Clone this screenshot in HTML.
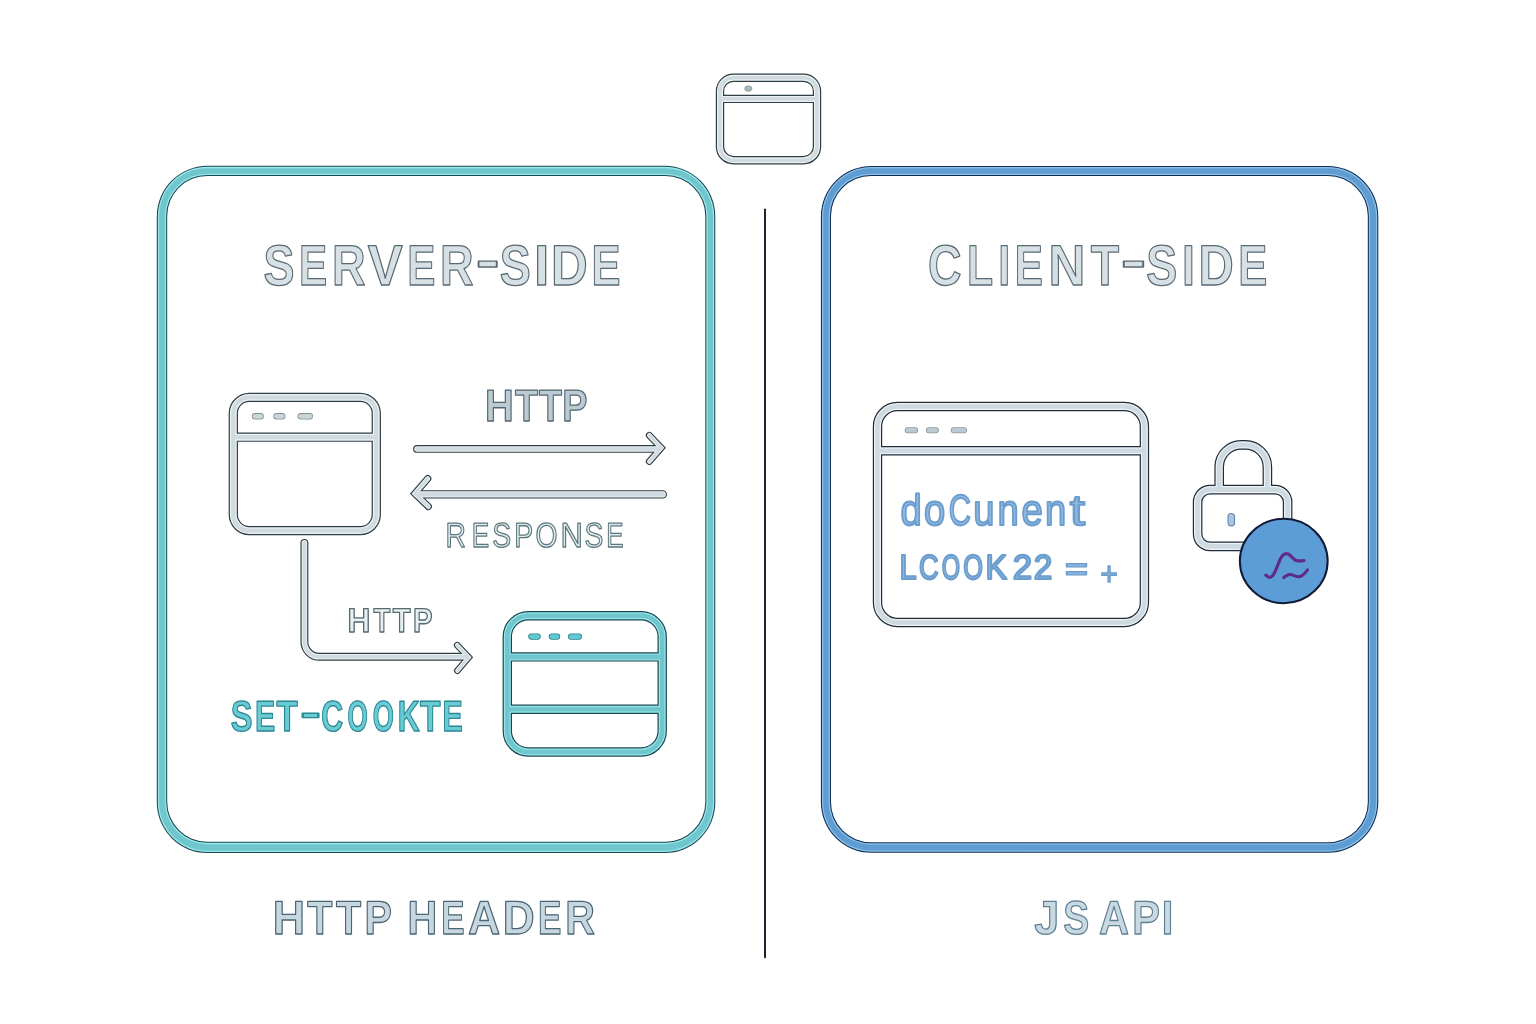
<!DOCTYPE html>
<html lang="en"><head><meta charset="utf-8"><title>Server-side vs client-side cookies</title>
<style>
html,body{margin:0;padding:0;background:#fff;}
body{width:1536px;height:1024px;overflow:hidden;}
svg{display:block;}
text{font-family:"Liberation Sans",sans-serif;stroke-linejoin:round;text-rendering:geometricPrecision;}
</style></head><body>
<svg width="1536" height="1024" viewBox="0 0 1536 1024">
<rect width="1536" height="1024" fill="#ffffff"/>
<g id="panel-server"><rect x="156.80" y="165.80" width="558.50" height="687.20" rx="50.50" fill="#174850"/><rect x="157.85" y="166.85" width="556.40" height="685.10" rx="49.45" fill="#9ae6ec"/><rect x="159.15" y="168.15" width="553.80" height="682.50" rx="48.15" fill="#6fc6cd"/><rect x="164.85" y="173.65" width="542.80" height="670.50" rx="42.35" fill="#9ae6ec"/><rect x="166.15" y="174.95" width="540.20" height="667.90" rx="41.05" fill="#174850"/><rect x="167.20" y="176.00" width="538.10" height="665.80" rx="40.00" fill="#fff"/></g>
<g id="panel-client"><rect x="820.90" y="165.90" width="557.40" height="686.90" rx="50.50" fill="#0e2d55"/><rect x="821.95" y="166.95" width="555.30" height="684.80" rx="49.45" fill="#8cc0e9"/><rect x="823.25" y="168.25" width="552.70" height="682.20" rx="48.15" fill="#5e9cd1"/><rect x="828.65" y="173.65" width="541.50" height="670.90" rx="42.35" fill="#8cc0e9"/><rect x="829.95" y="174.95" width="538.90" height="668.30" rx="41.05" fill="#0e2d55"/><rect x="831.00" y="176.00" width="536.80" height="666.20" rx="40.00" fill="#fff"/></g>
<path id="divider" d="M765 209.5V957.3" stroke="#0e1a24" stroke-width="1.9" stroke-linecap="round" fill="none"/>
<g id="icon-top"><g fill="none" stroke-linecap="butt" stroke-linejoin="round"><g stroke="#2f3d44"><rect x="720.00" y="77.70" width="97.00" height="82.50" rx="13.5" stroke-width="8.40"/><path d="M720.00 98.90L817.00 98.90" stroke-width="8.40"/></g><g stroke="#ebf3f5"><rect x="720.00" y="77.70" width="97.00" height="82.50" rx="13.5" stroke-width="6.00"/><path d="M720.00 98.90L817.00 98.90" stroke-width="6.00"/></g><g stroke="#d1dbdf"><rect x="720.00" y="77.70" width="97.00" height="82.50" rx="13.5" stroke-width="3.60"/><path d="M720.00 98.90L817.00 98.90" stroke-width="3.60"/></g></g><ellipse cx="748.3" cy="88.6" rx="3.6" ry="2.7" fill="#aab9bd" stroke="#7d8e94" stroke-width="0.8"/></g>
<g id="icon-browser-l"><g fill="none" stroke-linecap="butt" stroke-linejoin="round"><g stroke="#2f3d44"><rect x="233.30" y="397.40" width="143.00" height="133.20" rx="16" stroke-width="9.30"/><path d="M233.30 437.20L376.30 437.20" stroke-width="9.30"/></g><g stroke="#ebf3f5"><rect x="233.30" y="397.40" width="143.00" height="133.20" rx="16" stroke-width="6.90"/><path d="M233.30 437.20L376.30 437.20" stroke-width="6.90"/></g><g stroke="#d1dbdf"><rect x="233.30" y="397.40" width="143.00" height="133.20" rx="16" stroke-width="4.30"/><path d="M233.30 437.20L376.30 437.20" stroke-width="4.30"/></g></g><rect x="251.80" y="413.10" width="12.00" height="6.40" rx="3.20" fill="#7f9096"/><rect x="252.60" y="413.90" width="10.40" height="4.80" rx="2.40" fill="#cbd5d8"/><rect x="273.30" y="413.10" width="12.10" height="6.40" rx="3.20" fill="#7f9096"/><rect x="274.10" y="413.90" width="10.50" height="4.80" rx="2.40" fill="#cbd5d8"/><rect x="297.60" y="413.10" width="15.40" height="6.40" rx="3.20" fill="#7f9096"/><rect x="298.40" y="413.90" width="13.80" height="4.80" rx="2.40" fill="#cbd5d8"/></g>
<g id="arrow-req"><g fill="none" stroke-linecap="round" stroke-linejoin="miter"><g stroke="#2f3d44"><path d="M417 448.9H659" stroke-width="7.80"/><path d="M649.3 435.3L661.25 447.9L649.3 461.5" stroke-width="6.90"/></g><g stroke="#ebf3f5"><path d="M417 448.9H659" stroke-width="5.50"/><path d="M649.3 435.3L661.25 447.9L649.3 461.5" stroke-width="4.60"/></g><g stroke="#d1dbdf"><path d="M417 448.9H659" stroke-width="3.50"/><path d="M649.3 435.3L661.25 447.9L649.3 461.5" stroke-width="2.60"/></g></g></g>
<g id="arrow-res"><g fill="none" stroke-linecap="round" stroke-linejoin="miter"><g stroke="#2f3d44"><path d="M662.8 494.4H417" stroke-width="8.40"/><path d="M427.8 478.6L414.8 493.6L428.4 506.6" stroke-width="7.10"/></g><g stroke="#ebf3f5"><path d="M662.8 494.4H417" stroke-width="6.10"/><path d="M427.8 478.6L414.8 493.6L428.4 506.6" stroke-width="4.80"/></g><g stroke="#d1dbdf"><path d="M662.8 494.4H417" stroke-width="4.10"/><path d="M427.8 478.6L414.8 493.6L428.4 506.6" stroke-width="2.80"/></g></g></g>
<g id="arrow-l"><g fill="none" stroke-linecap="round" stroke-linejoin="miter"><g stroke="#2f3d44"><path d="M304.4 542.9V641.8a15 15 0 0 0 15 15H466" stroke-width="7.90"/><path d="M457.2 645.2L468.7 657.3L457.4 670.7" stroke-width="6.70"/></g><g stroke="#ebf3f5"><path d="M304.4 542.9V641.8a15 15 0 0 0 15 15H466" stroke-width="5.60"/><path d="M457.2 645.2L468.7 657.3L457.4 670.7" stroke-width="4.40"/></g><g stroke="#d1dbdf"><path d="M304.4 542.9V641.8a15 15 0 0 0 15 15H466" stroke-width="3.60"/><path d="M457.2 645.2L468.7 657.3L457.4 670.7" stroke-width="2.40"/></g></g></g>
<g id="icon-store"><g fill="none" stroke-linecap="butt" stroke-linejoin="round"><g stroke="#174850"><rect x="507.30" y="615.80" width="154.90" height="136.20" rx="21" stroke-width="9.40"/><path d="M507.30 656.90L662.20 656.90" stroke-width="9.40"/><path d="M507.30 709.20L662.20 709.20" stroke-width="9.40"/></g><g stroke="#9ae6ec"><rect x="507.30" y="615.80" width="154.90" height="136.20" rx="21" stroke-width="7.00"/><path d="M507.30 656.90L662.20 656.90" stroke-width="7.00"/><path d="M507.30 709.20L662.20 709.20" stroke-width="7.00"/></g><g stroke="#6fc6cd"><rect x="507.30" y="615.80" width="154.90" height="136.20" rx="21" stroke-width="4.60"/><path d="M507.30 656.90L662.20 656.90" stroke-width="4.60"/><path d="M507.30 709.20L662.20 709.20" stroke-width="4.60"/></g></g><rect x="528.20" y="633.50" width="12.60" height="6.20" rx="3.10" fill="#23808c"/><rect x="529.00" y="634.30" width="11.00" height="4.60" rx="2.30" fill="#62c8d2"/><rect x="548.70" y="633.50" width="11.50" height="6.20" rx="3.10" fill="#23808c"/><rect x="549.50" y="634.30" width="9.90" height="4.60" rx="2.30" fill="#62c8d2"/><rect x="568.00" y="633.50" width="14.00" height="6.20" rx="3.10" fill="#23808c"/><rect x="568.80" y="634.30" width="12.40" height="4.60" rx="2.30" fill="#62c8d2"/></g>
<g id="icon-browser-r"><g fill="none" stroke-linecap="butt" stroke-linejoin="round"><g stroke="#212c38"><rect x="877.50" y="406.50" width="266.90" height="216.00" rx="20" stroke-width="9.40"/><path d="M877.50 450.80L1144.40 450.80" stroke-width="9.40"/></g><g stroke="#eaf2f7"><rect x="877.50" y="406.50" width="266.90" height="216.00" rx="20" stroke-width="7.00"/><path d="M877.50 450.80L1144.40 450.80" stroke-width="7.00"/></g><g stroke="#cfd9e0"><rect x="877.50" y="406.50" width="266.90" height="216.00" rx="20" stroke-width="4.40"/><path d="M877.50 450.80L1144.40 450.80" stroke-width="4.40"/></g></g><rect x="904.70" y="427.30" width="13.40" height="6.00" rx="3.00" fill="#8797a0"/><rect x="905.50" y="428.10" width="11.80" height="4.40" rx="2.20" fill="#bcc9d0"/><rect x="925.90" y="427.30" width="13.00" height="6.00" rx="3.00" fill="#8797a0"/><rect x="926.70" y="428.10" width="11.40" height="4.40" rx="2.20" fill="#bcc9d0"/><rect x="950.80" y="427.30" width="16.20" height="6.00" rx="3.00" fill="#8797a0"/><rect x="951.60" y="428.10" width="14.60" height="4.40" rx="2.20" fill="#bcc9d0"/></g>
<g id="icon-lock"><g fill="none" stroke-linecap="butt" stroke-linejoin="round"><g stroke="#212c38"><path d="M1219.2 489.5V466.9a22 22 0 0 1 22 -22h4.2a22 22 0 0 1 22 22V489.5" stroke-width="9.60"/><rect x="1197.60" y="489.60" width="90.00" height="56.80" rx="12.5" stroke-width="9.60"/></g><g stroke="#eaf2f7"><path d="M1219.2 489.5V466.9a22 22 0 0 1 22 -22h4.2a22 22 0 0 1 22 22V489.5" stroke-width="7.20"/><rect x="1197.60" y="489.60" width="90.00" height="56.80" rx="12.5" stroke-width="7.20"/></g><g stroke="#cfd9e0"><path d="M1219.2 489.5V466.9a22 22 0 0 1 22 -22h4.2a22 22 0 0 1 22 22V489.5" stroke-width="4.60"/><rect x="1197.60" y="489.60" width="90.00" height="56.80" rx="12.5" stroke-width="4.60"/></g></g><rect x="1228.1" y="513.5" width="6.4" height="12.4" rx="3.2" fill="#a9c6e3" stroke="#5f82a8" stroke-width="1.1"/></g>
<g id="badge"><ellipse cx="1283.75" cy="561" rx="43.9" ry="42.2" fill="#5d9dd7" stroke="#0f1b36" stroke-width="2"/><path d="M1265.8 575.1C1268 577.4 1270.2 578 1272 576.4C1276 572.2 1278 563.5 1280.3 559C1282.6 554.6 1285.6 552.9 1288.2 554C1291 555.4 1292.8 558.6 1295.2 560.1C1298 561.5 1301 560.9 1304 560.5" fill="none" stroke="#5f2b88" stroke-width="3.1" stroke-linecap="round" stroke-linejoin="round"/><path d="M1283.7 577.7C1286 575.6 1288.2 574.2 1290.6 574.5C1293.6 575 1296 577 1299 576.8C1303 576.3 1305.5 572.6 1307.5 569.8" fill="none" stroke="#5f2b88" stroke-width="3.1" stroke-linecap="round" stroke-linejoin="round"/></g>
<g id="labels" opacity="0.999">
<text transform="scale(0.8148 1)" x="323.36 367.05 407.61 451.39 499.91 540.16 584.01 613.46 655.32 676.24 725.93" y="285.15" font-size="57.1" font-weight="bold" fill="#d6e0e5" stroke="#596a74" stroke-width="1.3" >S<tspan textLength="34.58" lengthAdjust="spacingAndGlyphs">E</tspan>R<tspan textLength="42.85" lengthAdjust="spacingAndGlyphs">V</tspan><tspan textLength="34.58" lengthAdjust="spacingAndGlyphs">E</tspan>R<tspan dy="-8.40" font-size="50" textLength="29.30" lengthAdjust="spacingAndGlyphs">-</tspan><tspan dy="8.40">S</tspan><tspan textLength="18.82" lengthAdjust="spacingAndGlyphs">I</tspan><tspan textLength="45.09" lengthAdjust="spacingAndGlyphs">D</tspan><tspan textLength="35.67" lengthAdjust="spacingAndGlyphs">E</tspan></text>
<text transform="scale(0.8137 1)" x="1140.33 1188.43 1226.81 1247.15 1288.53 1340.52 1377.21 1408.81 1452.65 1473.04 1521.71" y="285.15" font-size="57.1" font-weight="bold" fill="#d6e0e5" stroke="#596a74" stroke-width="1.3" >C<tspan textLength="32.11" lengthAdjust="spacingAndGlyphs">L</tspan><tspan textLength="14.70" lengthAdjust="spacingAndGlyphs">I</tspan><tspan textLength="34.63" lengthAdjust="spacingAndGlyphs">E</tspan><tspan textLength="45.21" lengthAdjust="spacingAndGlyphs">N</tspan>T<tspan dy="-8.40" font-size="50" textLength="31.35" lengthAdjust="spacingAndGlyphs">-</tspan><tspan dy="8.40">S</tspan>I<tspan textLength="43.34" lengthAdjust="spacingAndGlyphs">D</tspan><tspan textLength="35.72" lengthAdjust="spacingAndGlyphs">E</tspan></text>
<text transform="scale(0.8406 1)" x="576.83 612.61 641.10 668.92" y="420.70" font-size="44.9" font-weight="bold" fill="#bbcad3" stroke="#54666f" stroke-width="1.3" ><tspan textLength="34.20" lengthAdjust="spacingAndGlyphs">H</tspan>TTP</text>
<text transform="scale(0.8152 1)" x="546.63 578.61 603.90 630.74 656.75 687.66 717.06 743.61" y="546.55" font-size="34.7" font-weight="normal" fill="#dfecee" stroke="#5d767d" stroke-width="1.3" >R<tspan textLength="21.44" lengthAdjust="spacingAndGlyphs">E</tspan>SPO<tspan textLength="27.43" lengthAdjust="spacingAndGlyphs">N</tspan>S<tspan textLength="21.28" lengthAdjust="spacingAndGlyphs">E</tspan></text>
<text transform="scale(0.8578 1)" x="405.20 435.52 457.90 481.46" y="632.20" font-size="34.0" font-weight="bold" fill="#e6eff1" stroke="#55696f" stroke-width="1.4" ><tspan textLength="26.64" lengthAdjust="spacingAndGlyphs">H</tspan><tspan textLength="19.59" lengthAdjust="spacingAndGlyphs">T</tspan>TP</text>
<text transform="scale(0.7042 1)" x="327.85 362.10 392.67 426.44 456.36 493.39 529.39 564.83 596.48 628.51" y="731.00" font-size="43.2" font-weight="bold" fill="#6acbd4" stroke="#2a8894" stroke-width="1.4" ><tspan textLength="30.83" lengthAdjust="spacingAndGlyphs">S</tspan>E<tspan textLength="30.05" lengthAdjust="spacingAndGlyphs">T</tspan><tspan dy="-6.50" font-size="37" textLength="29.24" lengthAdjust="spacingAndGlyphs">-</tspan><tspan dy="6.50">C</tspan><tspan textLength="28.77" lengthAdjust="spacingAndGlyphs">O</tspan><tspan textLength="30.05" lengthAdjust="spacingAndGlyphs">O</tspan>K<tspan textLength="29.17" lengthAdjust="spacingAndGlyphs">T</tspan>E</text>
<text transform="scale(0.8790 1)" x="1024.40 1051.33 1079.34 1107.22 1134.69 1162.01 1188.95 1217.03" y="525.40" font-size="43.5" font-weight="normal" fill="#8fb9e0" stroke="#6b9dce" stroke-width="2.0" >do<tspan textLength="25.30" lengthAdjust="spacingAndGlyphs">C</tspan>unen<tspan textLength="17.45" lengthAdjust="spacingAndGlyphs">t</tspan></text>
<text transform="scale(0.8377 1)" x="1073.68 1097.14 1124.31 1149.87 1176.56 1208.90 1234.05" y="579.00" font-size="34.6" font-weight="normal" fill="#8fb9e0" stroke="#6b9dce" stroke-width="2.2" ><tspan textLength="20.48" lengthAdjust="spacingAndGlyphs">L</tspan><tspan textLength="23.34" lengthAdjust="spacingAndGlyphs">C</tspan><tspan textLength="21.90" lengthAdjust="spacingAndGlyphs">O</tspan><tspan textLength="23.53" lengthAdjust="spacingAndGlyphs">O</tspan><tspan textLength="25.67" lengthAdjust="spacingAndGlyphs">K</tspan><tspan textLength="23.17" lengthAdjust="spacingAndGlyphs">2</tspan><tspan textLength="22.15" lengthAdjust="spacingAndGlyphs">2</tspan></text>
<text transform="scale(1.3272 1)" x="802.46" y="579.20" font-size="29.6" font-weight="bold" fill="#8ab5de" stroke="#6a9bcc" stroke-width="1.3" >=</text>
<text transform="scale(0.9197 1)" x="1196.39" y="584.80" font-size="32.9" font-weight="normal" fill="#8ab5de" stroke="#6a9bcc" stroke-width="1.3" >+</text>
<text transform="scale(0.8648 1)" x="315.39 355.15 388.60 421.45 453.13 471.17 510.29 541.20 581.27 622.21 653.62" y="934.40" font-size="47.5" font-weight="bold" fill="#c7d7e0" stroke="#4c6574" stroke-width="1.3" ><tspan textLength="37.36" lengthAdjust="spacingAndGlyphs">H</tspan>TTP H<tspan textLength="26.94" lengthAdjust="spacingAndGlyphs">E</tspan><tspan textLength="37.22" lengthAdjust="spacingAndGlyphs">A</tspan><tspan textLength="36.90" lengthAdjust="spacingAndGlyphs">D</tspan><tspan textLength="27.08" lengthAdjust="spacingAndGlyphs">E</tspan>R</text>
<text transform="scale(0.8738 1)" x="1183.74 1216.76 1246.45 1257.81 1295.78 1329.43" y="934.40" font-size="47.5" font-weight="bold" fill="#c8d9e2" stroke="#5f8093" stroke-width="1.3" ><tspan textLength="28.55" lengthAdjust="spacingAndGlyphs">J</tspan><tspan textLength="29.69" lengthAdjust="spacingAndGlyphs">S</tspan> API</text>
</g>
</svg>
</body></html>
